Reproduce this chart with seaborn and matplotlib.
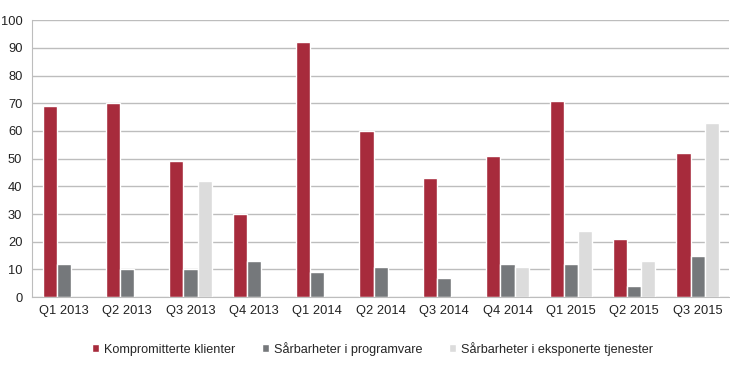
import numpy as np
import pandas as pd
import matplotlib
matplotlib.use('Agg')
import matplotlib.pyplot as plt
import seaborn as sns

# Data
quarters = ["Q1 2013", "Q2 2013", "Q3 2013", "Q4 2013", "Q1 2014", "Q2 2014",
            "Q3 2014", "Q4 2014", "Q1 2015", "Q2 2015", "Q3 2015"]
kompromitterte = [69, 70, 49, 30, 92, 60, 43, 51, 71, 21, 52]
programvare = [12, 10, 10, 13, 9, 11, 7, 12, 12, 4, 15]
tjenester = [0, 0, 42, 0, 0, 0, 0, 11, 24, 13, 63]

series = ["Kompromitterte klienter", "Sårbarheter i programvare",
          "Sårbarheter i eksponerte tjenester"]
colors = ["#A72B3C", "#75787B", "#DCDCDC"]

df = pd.DataFrame({
    "kvartal": quarters * 3,
    "serie": np.repeat(series, len(quarters)),
    "antall": kompromitterte + programvare + tjenester,
})

sns.set_style("white")
plt.rcParams['font.family'] = ['Liberation Sans', 'DejaVu Sans']

fig, ax = plt.subplots(figsize=(7.3, 3.69), dpi=100)
fig.subplots_adjust(left=0.044, right=0.999, top=0.945, bottom=0.195)

sns.barplot(data=df, x="kvartal", y="antall", hue="serie", order=quarters,
            hue_order=series, palette=colors, width=0.67, gap=0,
            saturation=1, ax=ax, legend=True)

ax.set_ylim(0, 100)
ax.set_xlim(-0.5, len(quarters) - 0.5)
ax.set_yticks(range(0, 101, 10))
ax.yaxis.grid(True, color="#BDBDBD", linewidth=1)
ax.set_axisbelow(True)
ax.set_xlabel("")
ax.set_ylabel("")
for s in ["top", "right"]:
    ax.spines[s].set_visible(False)
ax.spines["left"].set_color("#BDBDBD")
ax.spines["bottom"].set_color("#BDBDBD")
ax.tick_params(axis="both", labelsize=9.3, colors="#222222", length=0, pad=6)
ax.set_xticks(np.arange(-0.5, len(quarters)), minor=True)
ax.tick_params(axis="x", which="minor", length=4, color="#BDBDBD")
ax.tick_params(axis="y", length=4, color="#BDBDBD", pad=3)

ax.legend(loc="upper center", bbox_to_anchor=(0.488, -0.12), ncol=3, frameon=False,
          fontsize=9.1, handlelength=0.55, handleheight=0.55, columnspacing=2.1,
          handletextpad=0.4)

plt.savefig("out.png", dpi=100)
